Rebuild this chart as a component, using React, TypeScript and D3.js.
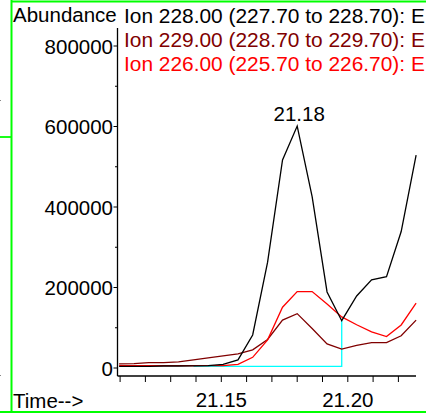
import React from "react";
import * as d3 from "d3";

const times = [
  21.1096, 21.1155, 21.1213, 21.1272, 21.1331, 21.139, 21.1448, 21.1507, 21.1566, 21.1624,
  21.1683, 21.1742, 21.18, 21.1859, 21.1918, 21.1976, 21.2035, 21.2094, 21.2153, 21.2211, 21.227,
];
const ion228 = [
  4000, 4000, 4000, 5000, 5000, 5500, 6000, 9000, 20000, 82000,
  263000, 517000, 601000, 426000, 189000, 117500, 179000, 219000, 227000, 339000, 529000,
];
const ion229 = [
  10000, 11000, 13500, 13500, 15000, 20000, 25000, 30000, 35000, 45000,
  71000, 119000, 135000, 98000, 60000, 47000, 56000, 63000, 63000, 80000, 119000,
];
const ion226 = [
  6000, 6000, 6000, 6000, 6000, 6000, 6000, 6000, 9000, 26500,
  70000, 151000, 190000, 190000, 159000, 127000, 107500, 90000, 78000, 107000, 161000,
];
const legendLabels = [
  "Ion 228.00 (227.70 to 228.70): E",
  "Ion 229.00 (228.70 to 229.70): E",
  "Ion 226.00 (225.70 to 226.70): E",
];
const seriesColors = ["#000000", "#800000", "#ff0000"];
const yMajorTicks = [0, 200000, 400000, 600000, 800000];
const yMinorTicks = [100000, 300000, 500000, 700000];
const xTicks = [21.11, 21.12, 21.13, 21.14, 21.15, 21.16, 21.17, 21.18, 21.19, 21.2, 21.21, 21.22];
const xLabels = [21.15, 21.2];
const peakLabel = "21.18";
const peakIndex = 12;
const baselineStart = 5;
const baselineEnd = 15;
const baselineValue = 4000;

const FONT = "'Liberation Sans', Arial, Helvetica, sans-serif";

export default function App() {
  const x = d3.scaleLinear().domain([21.15, 21.2]).range([221.3, 347.8]);
  const y = d3.scaleLinear().domain([0, 800000]).range([368, 46]);
  const axisY = 376;
  const axisX = 117.5;
  const xEnd = 416;

  const line = d3
    .line<number>()
    .x((_, i) => x(times[i]))
    .y((d) => y(d));

  const series = [ion228, ion229, ion226];

  const baselinePath =
    `M${x(times[baselineStart])},${y(baselineValue)}` +
    `L${x(times[baselineEnd])},${y(baselineValue)}` +
    `L${x(times[baselineEnd])},${y(ion228[baselineEnd])}`;

  return (
    <svg
      width={426}
      height={415}
      style={{ position: "fixed", left: 0, top: 0, background: "#fff" }}
      fontFamily={FONT}
    >
      <rect x={0} y={0} width={426} height={415} fill="#fff" />
      {/* frame */}
      <line x1={11.5} y1={0} x2={11.5} y2={413} stroke="#00ff00" strokeWidth={2} />
      <line x1={11} y1={1.5} x2={426} y2={1.5} stroke="#00ff00" strokeWidth={1.8} />
      <line x1={0} y1={412} x2={426} y2={412} stroke="#00ff00" strokeWidth={1.8} />
      <line x1={0} y1={137} x2={11} y2={137} stroke="#00ff00" strokeWidth={1.8} />
      <rect x={0} y={100} width={1} height={1} fill="#888" />
      <rect x={0} y={375} width={1} height={1} fill="#888" />

      {/* y axis */}
      <line x1={axisX} y1={28} x2={axisX} y2={axisY} stroke="#000" strokeWidth={1.3} />
      {yMajorTicks.map((t) => (
        <g key={"ym" + t}>
          <line x1={axisX - 4} x2={axisX} y1={y(t)} y2={y(t)} stroke="#000" strokeWidth={1} />
          <text x={113} y={y(t) + 7.5} textAnchor="end" fontSize={20.5} fill="#000">
            {t}
          </text>
        </g>
      ))}
      {yMinorTicks.map((t) => (
        <line key={"yn" + t} x1={axisX - 2.5} x2={axisX} y1={y(t)} y2={y(t)} stroke="#000" strokeWidth={1} />
      ))}

      {/* x axis */}
      <line x1={axisX} y1={axisY} x2={xEnd} y2={axisY} stroke="#000" strokeWidth={1.3} />
      {xTicks.map((t) => (
        <line key={"xt" + t} x1={x(t)} x2={x(t)} y1={axisY} y2={axisY + 6} stroke="#000" strokeWidth={1} />
      ))}
      {xLabels.map((t) => (
        <text key={"xl" + t} x={x(t)} y={407} textAnchor="middle" fontSize={20.5} fill="#000">
          {t.toFixed(2)}
        </text>
      ))}

      {/* titles */}
      <text x={13} y={22} fontSize={20.5} fill="#000">Abundance</text>
      <text x={13} y={408} fontSize={20.5} fill="#000">Time--&gt;</text>
      {legendLabels.map((l, i) => (
        <text key={l} x={124} y={23 + i * 24} fontSize={20.9} fill={seriesColors[i]}>
          {l}
        </text>
      ))}

      {/* baseline */}
      <path d={baselinePath} fill="none" stroke="#00ffff" strokeWidth={1.3} />

      {/* series, drawn back to front */}
      {[1, 2, 0].map((si) => (
        <path
          key={"s" + si}
          d={line(series[si]) || ""}
          fill="none"
          stroke={seriesColors[si]}
          strokeWidth={1.3}
          strokeLinejoin="miter"
        />
      ))}

      {/* peak label */}
      <text
        x={x(times[peakIndex]) + 2}
        y={y(ion228[peakIndex]) - 5}
        textAnchor="middle"
        fontSize={20.5}
        fill="#000"
      >
        {peakLabel}
      </text>
    </svg>
  );
}
